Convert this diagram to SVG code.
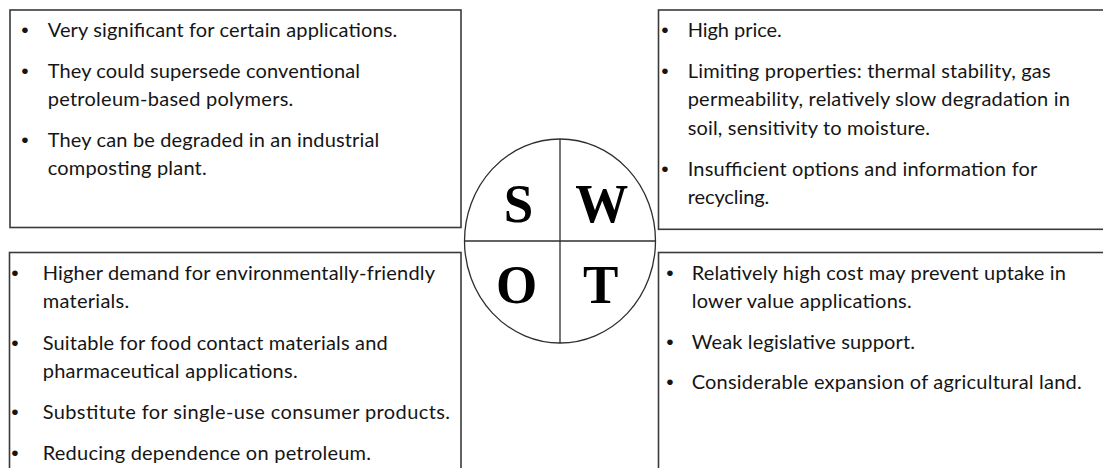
<svg xmlns="http://www.w3.org/2000/svg" width="1103" height="468" viewBox="0 0 1103 468">
<style>
.box{fill:#fff;stroke:#3a3a3a;stroke-width:1.6}
.t{font-family:Lato,"Open Sans","Liberation Sans",sans-serif;font-size:20px;fill:#151515}
.b{font-family:"Liberation Sans",Arial,sans-serif;font-size:21px;fill:#151515;text-anchor:middle}
.ring{fill:#fff;stroke:#2e2e2e;stroke-width:1.3}
.cross{stroke:#2e2e2e;stroke-width:1.3;fill:none}
.L{font-family:"Liberation Serif","Times New Roman",serif;font-weight:bold;font-size:53px;fill:#000;text-anchor:middle}
</style>
<rect width="1103" height="468" fill="#fff"/>
<g id="connectors"></g>
<g id="strengths">
<rect class="box" x="10" y="10" width="451" height="217.5"/>
<text class="b" x="25" y="36.5">•</text>
<text class="b" x="25" y="77.5">•</text>
<text class="b" x="25" y="146.7">•</text>
<text class="t" x="47.7" y="36.5" textLength="349.6">Very significant for certain applications.</text>
<text class="t" x="47.7" y="77.5" textLength="312.3">They could supersede conventional</text>
<text class="t" x="47.7" y="106" textLength="245.6">petroleum-based polymers.</text>
<text class="t" x="47.7" y="146.7" textLength="331.6">They can be degraded in an industrial</text>
<text class="t" x="47.7" y="175" textLength="159">composting plant.</text>
</g>
<g id="weaknesses">
<rect class="box" x="658.5" y="10" width="460" height="219.3"/>
<text class="b" x="665" y="36.5">•</text>
<text class="b" x="665" y="77.5">•</text>
<text class="b" x="665" y="175.5">•</text>
<text class="t" x="687.7" y="36.5" textLength="94">High price.</text>
<text class="t" x="687.7" y="77.5" textLength="363">Limiting properties: thermal stability, gas</text>
<text class="t" x="687.7" y="106" textLength="382.3">permeability, relatively slow degradation in</text>
<text class="t" x="687.7" y="134.5" textLength="242.3">soil, sensitivity to moisture.</text>
<text class="t" x="687.7" y="175.5" textLength="349.6">Insufficient options and information for</text>
<text class="t" x="687.7" y="204" textLength="81.6">recycling.</text>
</g>
<g id="opportunities">
<rect class="box" x="9.5" y="252.5" width="451.5" height="230"/>
<text class="b" x="15" y="280">•</text>
<text class="b" x="15" y="350">•</text>
<text class="b" x="15" y="419">•</text>
<text class="b" x="15" y="460">•</text>
<text class="t" x="42.7" y="280" textLength="392.3">Higher demand for environmentally-friendly</text>
<text class="t" x="42.7" y="308.3" textLength="86.6">materials.</text>
<text class="t" x="42.7" y="350" textLength="345">Suitable for food contact materials and</text>
<text class="t" x="42.7" y="378.3" textLength="255">pharmaceutical applications.</text>
<text class="t" x="42.7" y="419" textLength="407.3">Substitute for single-use consumer products.</text>
<text class="t" x="42.7" y="460" textLength="328.3">Reducing dependence on petroleum.</text>
</g>
<g id="threats">
<rect class="box" x="658.5" y="252.5" width="460" height="230"/>
<text class="b" x="670" y="280">•</text>
<text class="b" x="670" y="348.5">•</text>
<text class="b" x="670" y="388.5">•</text>
<text class="t" x="691.7" y="280" textLength="374.3">Relatively high cost may prevent uptake in</text>
<text class="t" x="691.7" y="308" textLength="220">lower value applications.</text>
<text class="t" x="691.7" y="348.5" textLength="223.3">Weak legislative support.</text>
<text class="t" x="691.7" y="388.5" textLength="390">Considerable expansion of agricultural land.</text>
</g>
<g id="swot-circle">
<ellipse class="ring" cx="560" cy="241" rx="95.5" ry="102"/>
<line class="cross" x1="560" y1="139" x2="560" y2="343"/>
<line class="cross" x1="464.5" y1="241" x2="655.5" y2="241"/>
<text class="L" transform="translate(518.5,221.5) scale(1,1.05)">S</text>
<text class="L" transform="translate(601.7,221.5) scale(1,1.05)">W</text>
<text class="L" transform="translate(516.7,303.3) scale(1,1.05)">O</text>
<text class="L" transform="translate(600.7,302.8) scale(1,1.05)">T</text>
</g>
</svg>
